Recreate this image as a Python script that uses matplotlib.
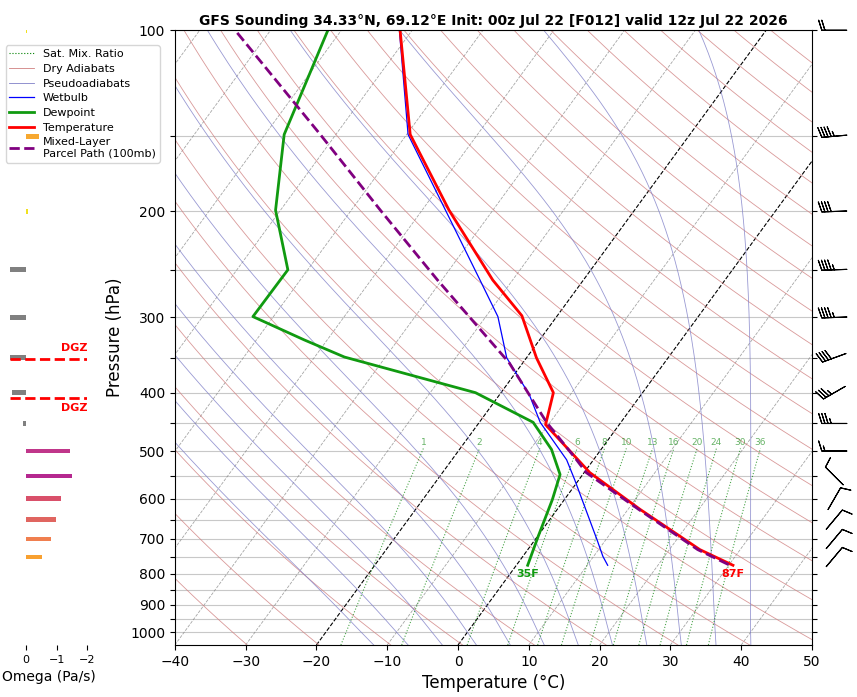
import numpy as np
import matplotlib.pyplot as plt
from matplotlib.lines import Line2D
import matplotlib.transforms as mtransforms

# Sounding data (hPa, degC)
p_temp = [774, 729, 625, 543, 452, 400, 350, 298, 260, 199, 149, 100]
t_temp = [30.6, 24.3, 11.7, 0.8, -10.4, -12.6, -18.6, -25.0, -32.8, -46.2, -59.5, -71.7]

p_dew = [774, 693, 602, 547, 497, 448, 400, 349, 327, 299, 250, 199, 149, 100]
t_dew = [1.6, 0.1, -1.7, -3.2, -7.0, -12.4, -23.6, -45.8, -53.2, -62.9, -62.8, -70.7, -77.3, -81.9]

p_wet = [774, 748, 701, 558, 517, 448, 403, 350, 299, 260, 199, 149, 100]
t_wet = [12.9, 11.3, 8.7, -0.6, -3.8, -11.4, -15.8, -22.8, -28.3, -34.6, -46.7, -59.8, -71.8]

p_parc = [772, 729, 625, 543, 517, 448, 357, 260, 199, 149, 100]
t_parc = [29.9, 24.0, 11.5, 0.3, -2.4, -10.5, -21.9, -40.6, -55.9, -72.2, -95.0]

# winds (knots)
p_wind = [100, 150, 200, 250, 300, 350, 400, 450, 500, 550, 600, 650, 700, 750]
spd_wind = [20, 45, 40, 45, 45, 40, 35, 35, 15, 10, 10, 10, 10, 10]
dir_wind = [270, 265, 268, 268, 268, 250, 240, 270, 270, 315, 30, 40, 40, 40]

# omega (Pa/s)
p_omega = [100, 150, 200, 250, 300, 350, 400, 450, 500, 550, 600, 650, 700, 750]
omega = [-0.05, -0.42, -0.06, 0.5, 0.5, 0.5, 0.45, 0.1, -1.45, -1.5, -1.15, -0.98, -0.82, -0.52]
omega_colors = ['#f0e020', '#f7a830', '#f0e020', 'gray', 'gray', 'gray', 'gray', 'gray',
                '#c0368a', '#b5288f', '#d9506a', '#e06560', '#f07f4f', '#f8a030']

mix_ratios = [1, 2, 4, 6, 8, 10, 13, 16, 20, 24, 30, 36]

P_BOT, P_TOP = 1050, 100
SKEW = 62.2


def sx(t, p):
    return np.asarray(t) + SKEW * np.log10(P_BOT / np.asarray(p, dtype=float))


fig = plt.figure(figsize=(8.57, 6.97), dpi=100)
ax = fig.add_axes([0.204, 0.0746, 0.7435, 0.882])
ax.set_yscale('log')
ax.set_ylim(P_BOT, P_TOP)
ax.set_xlim(-40, 50)

pp = np.logspace(np.log10(P_BOT), np.log10(P_TOP), 200)

# isotherms
for t in range(-120, 60, 10):
    if t in (0, -20):
        ax.plot(sx(t, pp), pp, 'k--', lw=0.8)
    else:
        ax.plot(sx(t, pp), pp, '--', color='gray', lw=0.6, alpha=0.7)

# dry adiabats
for th in range(240, 500, 10):
    tt = th * (pp / 1000.0) ** 0.2857 - 273.15
    ax.plot(sx(tt, pp), pp, color='#d08080', lw=0.6, alpha=0.8)


# moist adiabats
def es(tc):
    return 6.112 * np.exp(17.67 * tc / (tc + 243.5))


for t0 in range(-15, 45, 5):
    ps = np.linspace(1000, 100, 400)
    tk = t0 + 273.15
    out = [tk]
    for i in range(1, len(ps)):
        p = ps[i - 1]
        rs = 0.622 * es(tk - 273.15) / (p - es(tk - 273.15))
        dtdp = (287.0 * tk + 2.5e6 * rs) / (1004.0 + 2.5e6 ** 2 * rs * 0.622 / (287.0 * tk ** 2)) / p
        tk = tk + dtdp * (ps[i] - p)
        out.append(tk)
    out = np.array(out) - 273.15
    ps2 = np.concatenate([[1050], ps])
    out2 = np.concatenate([[out[0] + (out[0] - out[1]) / (ps[0] - ps[1]) * 50], out])
    ax.plot(sx(out2, ps2), ps2, color='#8080c8', lw=0.6, alpha=0.8)

# mixing ratio lines
pm = np.linspace(1050, 495, 50)
for w in mix_ratios:
    e = w / 1000.0 * pm / (0.622 + w / 1000.0)
    ln = np.log(e / 6.112)
    td = 243.5 * ln / (17.67 - ln)
    ax.plot(sx(td, pm), pm, ':', color='green', lw=0.8, alpha=0.7)
    ax.text(sx(td[-1], pm[-1]), 493, str(w), color='green', alpha=0.6,
            fontsize=6.5, ha='center', va='bottom')

# horizontal grid
for p in range(100, 1050, 50):
    ax.axhline(p, color='#c8c8c8', lw=0.8, zorder=0)

ax.plot(sx(t_wet, p_wet), p_wet, color='blue', lw=0.9)
ax.plot(sx(t_dew, p_dew), p_dew, color='#109a10', lw=2)
ax.plot(sx(t_temp, p_temp), p_temp, color='red', lw=2)
ax.plot(sx(t_parc, p_parc), p_parc, '--', color='purple', lw=2)

ax.text(sx(t_temp[0], p_temp[0]), p_temp[0] * 1.015, '87F', color='red', fontsize=8,
        fontweight='bold', ha='center', va='top')
ax.text(sx(t_dew[0], p_dew[0]), p_dew[0] * 1.015, '35F', color='#109a10', fontsize=8,
        fontweight='bold', ha='center', va='top')

ticks = list(range(100, 1050, 50))
ax.set_yticks(ticks)
ax.set_yticklabels([str(t) if t % 100 == 0 else '' for t in ticks])
ax.yaxis.set_minor_locator(plt.NullLocator())
ax.tick_params(axis='y', right=True, labelsize=10)
ax.tick_params(axis='x', labelsize=10)
ax.set_xticks(range(-40, 60, 10))
ax.set_ylabel('Pressure (hPa)', fontsize=12)
ax.set_xlabel('Temperature (°C)', fontsize=12)
ax.set_title('GFS Sounding 34.33°N, 69.12°E Init: 00z Jul 22 [F012] valid 12z Jul 22 2026',
             fontsize=10, fontweight='bold', pad=4)

# wind barbs outside right
d = np.deg2rad(dir_wind)
u = -np.array(spd_wind) * np.sin(d)
v = -np.array(spd_wind) * np.cos(d)
trans = mtransforms.blended_transform_factory(ax.transAxes, ax.transData)
ax.barbs(np.full(len(p_wind), 1.035), p_wind, u, v, transform=trans, clip_on=False,
         length=6, pivot='middle', lw=0.8)

# legend
handles = [Line2D([], [], color='green', ls=':', lw=0.8),
           Line2D([], [], color='#d08080', lw=0.6),
           Line2D([], [], color='#8080c8', lw=0.6),
           Line2D([], [], color='blue', lw=0.9),
           Line2D([], [], color='#109a10', lw=2),
           Line2D([], [], color='red', lw=2),
           Line2D([], [], color='purple', ls='--', lw=2)]
labels = ['Sat. Mix. Ratio', 'Dry Adiabats', 'Pseudoadiabats', 'Wetbulb', 'Dewpoint',
          'Temperature', 'Mixed-Layer\nParcel Path (100mb)']
fig.legend(handles, labels, loc='upper left', bbox_to_anchor=(0.0, 0.943), fontsize=8,
           handlelength=2.2, borderpad=0.35, labelspacing=0.42, framealpha=0.8)

# omega panel
ax2 = fig.add_axes([0.012, 0.0746, 0.09, 0.882])
ax2.set_yscale('log')
ax2.set_ylim(P_BOT, P_TOP)
ax2.set_xlim(0.5, -2.0)
ax2.barh(p_omega, omega, height=np.array(p_omega) * 0.018, color=omega_colors, zorder=1)
for p_dgz, off, va in [(351, -0.02, 'bottom'), (408, 0.02, 'top')]:
    ax2.plot([0.5, -2.0], [p_dgz, p_dgz], 'r--', lw=2, zorder=3)
    ax2.text(-2.0, p_dgz * (1 + off), 'DGZ', color='red', fontsize=8, fontweight='bold',
             ha='right', va=va)
for s in ['left', 'right', 'top', 'bottom']:
    ax2.spines[s].set_visible(False)
ax2.set_yticks([])
ax2.yaxis.set_minor_locator(plt.NullLocator())
ax2.set_xticks([0, -1, -2])
ax2.tick_params(axis='x', labelsize=8)
ax2.set_xlabel('Omega (Pa/s)', fontsize=10)
ax2.patch.set_alpha(0)
ax2.set_zorder(10)

fig.savefig('out.png', dpi=100)
